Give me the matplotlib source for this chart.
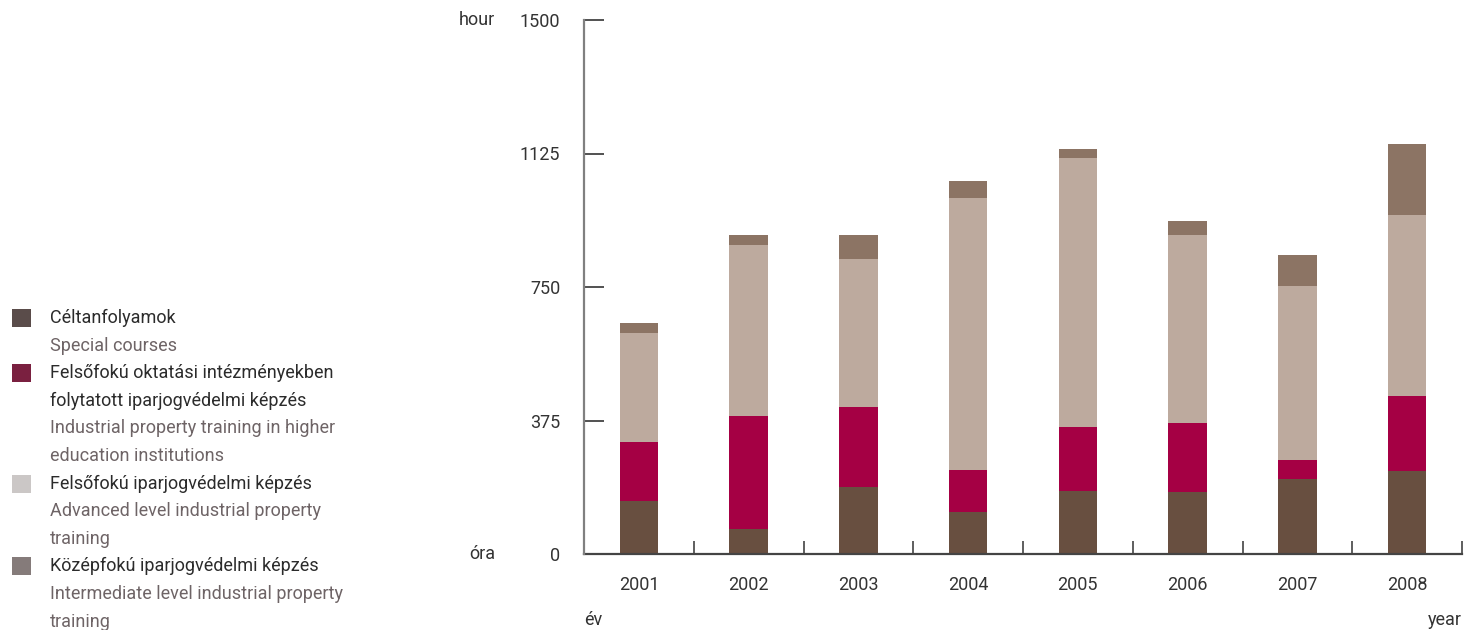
import matplotlib
matplotlib.use("Agg")
import matplotlib.pyplot as plt
from matplotlib.patches import Rectangle
import numpy as np

plt.rcParams['font.family'] = ['Liberation Sans Narrow', 'Roboto', 'DejaVu Sans']

# Data (hours per year)
years = ['2001', '2002', '2003', '2004', '2005', '2006', '2007', '2008']
special = [150, 69, 187, 117, 176, 175, 212, 234]
higher_edu = [166, 318, 225, 118, 180, 194, 53, 211]
advanced = [305, 482, 417, 766, 755, 528, 489, 508]
intermediate = [28, 28, 68, 48, 28, 39, 87, 200]

y_ticks = [0, 375, 750, 1125, 1500]

bar_colors = ['#684f40', '#a50044', '#bdaa9e', '#8c7464']
legend_colors = ['#5a4c4a', '#7a2040', '#cbc7c6', '#857b7a']
legend_hu = ['Céltanfolyamok',
             'Felsőfokú oktatási intézményekben\nfolytatott iparjogvédelmi képzés',
             'Felsőfokú iparjogvédelmi képzés',
             'Középfokú iparjogvédelmi képzés']
legend_en = ['Special courses',
             'Industrial property training in higher\neducation institutions',
             'Advanced level industrial property\ntraining',
             'Intermediate level industrial property\ntraining']

W, H = 1464, 630
fig = plt.figure(figsize=(W / 100, H / 100), dpi=100)
ax = fig.add_axes([584 / W, 1 - 554 / H, (1462 - 584) / W, (554 - 20) / H])

x = np.arange(len(years))
bottom = np.zeros(len(years))
for vals, col in zip([special, higher_edu, advanced, intermediate], bar_colors):
    ax.bar(x, vals, width=0.35, bottom=bottom, color=col, linewidth=0)
    bottom += np.array(vals)

ax.set_xlim(-0.5, 7.5)
ax.set_ylim(0, 1500)

ax.set_yticks(y_ticks)
ax.set_yticklabels([str(v) for v in y_ticks])
ax.tick_params(axis='y', direction='in', length=14.4, width=1.1, color='#222222',
               pad=17, labelsize=13, labelcolor='#333333')

ax.set_xticks(x)
ax.set_xticklabels(years)
ax.tick_params(axis='x', which='major', length=0, pad=16, labelsize=13, labelcolor='#333333')
ax.set_xticks(x[:-1] + 0.5, minor=True)
ax.set_xticks(list(x + 0.5), minor=True)
ax.tick_params(axis='x', which='minor', direction='in', length=9.4, width=1.1, color='#333333')

for s in ['top', 'right']:
    ax.spines[s].set_visible(False)
ax.spines['left'].set_color('#808080')
ax.spines['left'].set_linewidth(1.6)
ax.spines['bottom'].set_color('#444444')
ax.spines['bottom'].set_linewidth(1.6)
ax.spines['left'].set_zorder(5)

# axis unit labels
fig.text(495 / W, 1 - 20 / H, 'hour', ha='right', va='center', fontsize=13, color='#333333')
fig.text(495 / W, 1 - 554 / H, 'óra', ha='right', va='center', fontsize=13, color='#333333')
fig.text(584 / W, 1 - 620 / H, 'év', ha='left', va='center', fontsize=13, color='#333333')
fig.text(1462 / W, 1 - 620 / H, 'year', ha='right', va='center', fontsize=13, color='#333333')

# legend on the left
line_h = 27.6
y = 318
for col, hu, en in zip(legend_colors, legend_hu, legend_en):
    fig.patches.append(Rectangle((12 / W, 1 - (y + 9) / H), 19 / W, 18 / H,
                                 transform=fig.transFigure, color=col, linewidth=0))
    for line in hu.split('\n'):
        fig.text(50 / W, 1 - y / H, line, ha='left', va='center', fontsize=13, color='#2b2b2b')
        y += line_h
    for line in en.split('\n'):
        fig.text(50 / W, 1 - y / H, line, ha='left', va='center', fontsize=13, color='#6e6466')
        y += line_h

fig.savefig('out.png', dpi=100)
